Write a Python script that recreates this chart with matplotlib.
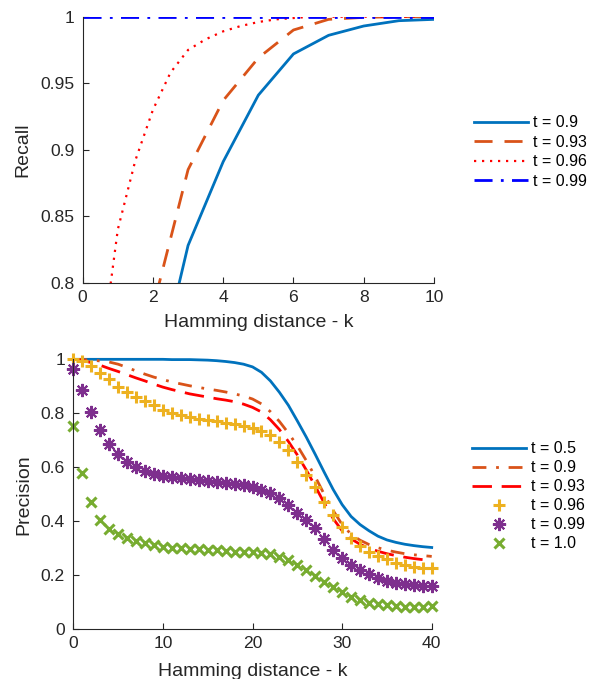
import matplotlib
matplotlib.use("Agg")
import matplotlib.pyplot as plt
from matplotlib.ticker import FuncFormatter

plt.rcParams["font.family"] = ["Liberation Sans", "DejaVu Sans"]

# ---- recall panel data ----
k_recall = [0, 1, 2, 3, 4, 5, 6, 7, 8, 9, 10]
recall_090 = [0.30, 0.55, 0.716, 0.828, 0.891, 0.941, 0.972, 0.986, 0.993, 0.997, 0.998]
recall_093 = [0.45, 0.66, 0.781, 0.885, 0.937, 0.969, 0.990, 0.998, 0.9995, 1.0, 1.0]
k_recall_fine = [0, 0.5, 1, 1.5, 2, 2.5, 3, 3.5, 4, 4.5, 5, 5.5, 6, 6.5, 7,
                 7.5, 8, 8.5, 9, 9.5, 10]
recall_096 = [0.62, 0.74, 0.84, 0.892, 0.93, 0.958, 0.975, 0.983, 0.989, 0.993,
              0.996, 0.998, 0.999, 1.0, 1.0, 1.0, 1.0, 1.0, 1.0, 1.0, 1.0]
recall_099 = [1.0] * 11

# ---- precision panel data ----
k_prec = list(range(41))
prec_050 = [1.0, 1.0, 1.0, 1.0, 1.0, 1.0, 1.0, 1.0, 1.0, 1.0, 1.0,
            0.999, 0.999, 0.999, 0.998, 0.997, 0.995, 0.992, 0.988, 0.982, 0.972,
            0.952, 0.92, 0.878, 0.83, 0.772, 0.712, 0.648, 0.582, 0.518, 0.462,
            0.418, 0.388, 0.365, 0.345, 0.331, 0.322, 0.315, 0.31, 0.306, 0.303]
prec_090 = [1.0, 0.999, 0.997, 0.994, 0.99, 0.982, 0.97, 0.957, 0.945, 0.934, 0.925,
            0.916, 0.909, 0.902, 0.896, 0.89, 0.885, 0.879, 0.872, 0.864, 0.853,
            0.835, 0.806, 0.77, 0.727, 0.68, 0.625, 0.565, 0.5, 0.44, 0.388,
            0.352, 0.33, 0.314, 0.302, 0.293, 0.286, 0.28, 0.276, 0.273, 0.27]
prec_093 = [1.0, 0.996, 0.988, 0.978, 0.966, 0.955, 0.943, 0.931, 0.92, 0.908, 0.897,
            0.888, 0.88, 0.872, 0.866, 0.86, 0.854, 0.849, 0.843, 0.834, 0.822,
            0.805, 0.776, 0.74, 0.696, 0.646, 0.59, 0.53, 0.468, 0.41, 0.365,
            0.335, 0.315, 0.3, 0.289, 0.28, 0.273, 0.267, 0.262, 0.258, 0.255]
prec_096 = [1.0, 0.995, 0.975, 0.948, 0.926, 0.899, 0.88, 0.862, 0.846, 0.831, 0.812,
            0.802, 0.794, 0.785, 0.779, 0.775, 0.772, 0.765, 0.76, 0.753, 0.744,
            0.736, 0.72, 0.695, 0.664, 0.621, 0.572, 0.528, 0.473, 0.423, 0.38,
            0.337, 0.309, 0.288, 0.272, 0.259, 0.247, 0.238, 0.232, 0.228, 0.228]
prec_099 = [0.963, 0.886, 0.806, 0.738, 0.686, 0.648, 0.621, 0.602, 0.588, 0.575, 0.568,
            0.563, 0.559, 0.556, 0.553, 0.549, 0.544, 0.541, 0.538, 0.533, 0.526,
            0.516, 0.504, 0.485, 0.46, 0.432, 0.405, 0.374, 0.333, 0.294, 0.263,
            0.238, 0.22, 0.204, 0.191, 0.18, 0.173, 0.168, 0.164, 0.162, 0.162]
prec_100 = [0.753, 0.578, 0.473, 0.405, 0.372, 0.353, 0.337, 0.327, 0.319, 0.312, 0.306,
            0.302, 0.3, 0.296, 0.296, 0.294, 0.293, 0.29, 0.288, 0.286, 0.286,
            0.284, 0.279, 0.269, 0.257, 0.238, 0.22, 0.198, 0.177, 0.156, 0.137,
            0.121, 0.109, 0.099, 0.093, 0.089, 0.086, 0.084, 0.084, 0.084, 0.086]

M_BLUE = "#0072BD"
M_ORANGE = "#D95319"
M_YELLOW = "#EDB120"
M_PURPLE = "#7E2F8E"
M_GREEN = "#77AC30"
AX_COLOR = "#262626"

TICK_FS = 12.6
LABEL_FS = 14
LEG_FS = 11.5


def style_axes(ax):
    for side in ("top", "right"):
        ax.spines[side].set_visible(False)
    for side in ("left", "bottom"):
        ax.spines[side].set_color(AX_COLOR)
        ax.spines[side].set_linewidth(0.8)
    ax.tick_params(direction="in", length=4, width=0.8, colors=AX_COLOR,
                   labelsize=TICK_FS, labelcolor=AX_COLOR)
    ax.tick_params(axis="x", pad=5)
    ax.tick_params(axis="y", pad=6)
    ax.yaxis.set_major_formatter(FuncFormatter(lambda v, p: f"{v:g}"))
    ax.xaxis.set_major_formatter(FuncFormatter(lambda v, p: f"{v:g}"))


fig = plt.figure(figsize=(5.94, 6.79), dpi=100)

# ---- top: recall ----
ax1 = fig.add_axes([0.1392, 0.5837, 0.5914, 0.3917])
ax1.plot(k_recall, recall_090, color=M_BLUE, lw=2, label="t = 0.9")
ax1.plot(k_recall, recall_093, color=M_ORANGE, lw=2, ls=(0, (6.5, 4.3)), label="t = 0.93")
ax1.plot(k_recall_fine, recall_096, color="#FF0000", lw=1.6, ls=(0, (1, 2.6)), label="t = 0.96")
ax1.plot(k_recall, recall_099, color="#0000FF", lw=2, ls=(0, (6.5, 3, 1, 3)), label="t = 0.99")
ax1.set_xlim(0, 10)
ax1.set_ylim(0.8, 1.0)
ax1.set_xticks([0, 2, 4, 6, 8, 10])
ax1.set_yticks([0.8, 0.85, 0.9, 0.95, 1.0])
style_axes(ax1)
ax1.set_xlabel("Hamming distance - k", fontsize=LABEL_FS, color=AX_COLOR, labelpad=7)
ax1.set_ylabel("Recall", fontsize=LABEL_FS, color=AX_COLOR)
ax1.yaxis.set_label_coords(-0.147, 0.5)
fig.legend(handles=ax1.get_lines(), loc="upper left", bbox_to_anchor=(0.798, 0.830),
           frameon=False, fontsize=LEG_FS, handlelength=3.4, handletextpad=0.3,
           labelspacing=0.28, borderpad=0, borderaxespad=0)

# ---- bottom: precision ----
ax2 = fig.add_axes([0.1234, 0.0732, 0.6034, 0.3976])
ax2.plot(k_prec, prec_050, color=M_BLUE, lw=2, label="t = 0.5")
ax2.plot(k_prec, prec_090, color=M_ORANGE, lw=2, ls=(0, (5, 3.5, 1, 3.5)), label="t = 0.9")
ax2.plot(k_prec, prec_093, color="#FF0000", lw=2, ls=(0, (7, 3.5)), label="t = 0.93")
ax2.plot(k_prec, prec_096, ls="none", marker="+", ms=9, mew=2.2, color=M_YELLOW,
         label="t = 0.96")
ax2.plot(k_prec, prec_099, ls="none", marker=(8, 2, 0), ms=9.5, mew=1.5, color=M_PURPLE,
         label="t = 0.99")
ax2.plot(k_prec, prec_100, ls="none", marker="x", ms=7, mew=2.2, color=M_GREEN,
         label="t = 1.0")
ax2.set_xlim(0, 40)
ax2.set_ylim(0, 1.0)
ax2.set_xticks([0, 10, 20, 30, 40])
ax2.set_yticks([0, 0.2, 0.4, 0.6, 0.8, 1.0])
style_axes(ax2)
for ln in ax2.get_lines():
    ln.set_clip_on(False)
ax2.set_xlabel("Hamming distance - k", fontsize=LABEL_FS, color=AX_COLOR, labelpad=8.5)
ax2.set_ylabel("Precision", fontsize=LABEL_FS, color=AX_COLOR)
ax2.yaxis.set_label_coords(-0.115, 0.5)
fig.legend(handles=ax2.get_lines(), loc="upper left", bbox_to_anchor=(0.794, 0.3499),
           frameon=False, fontsize=LEG_FS, handlelength=3.4, handletextpad=0.3,
           labelspacing=0.25, borderpad=0, borderaxespad=0, numpoints=1)

fig.savefig("out.png", dpi=100)
